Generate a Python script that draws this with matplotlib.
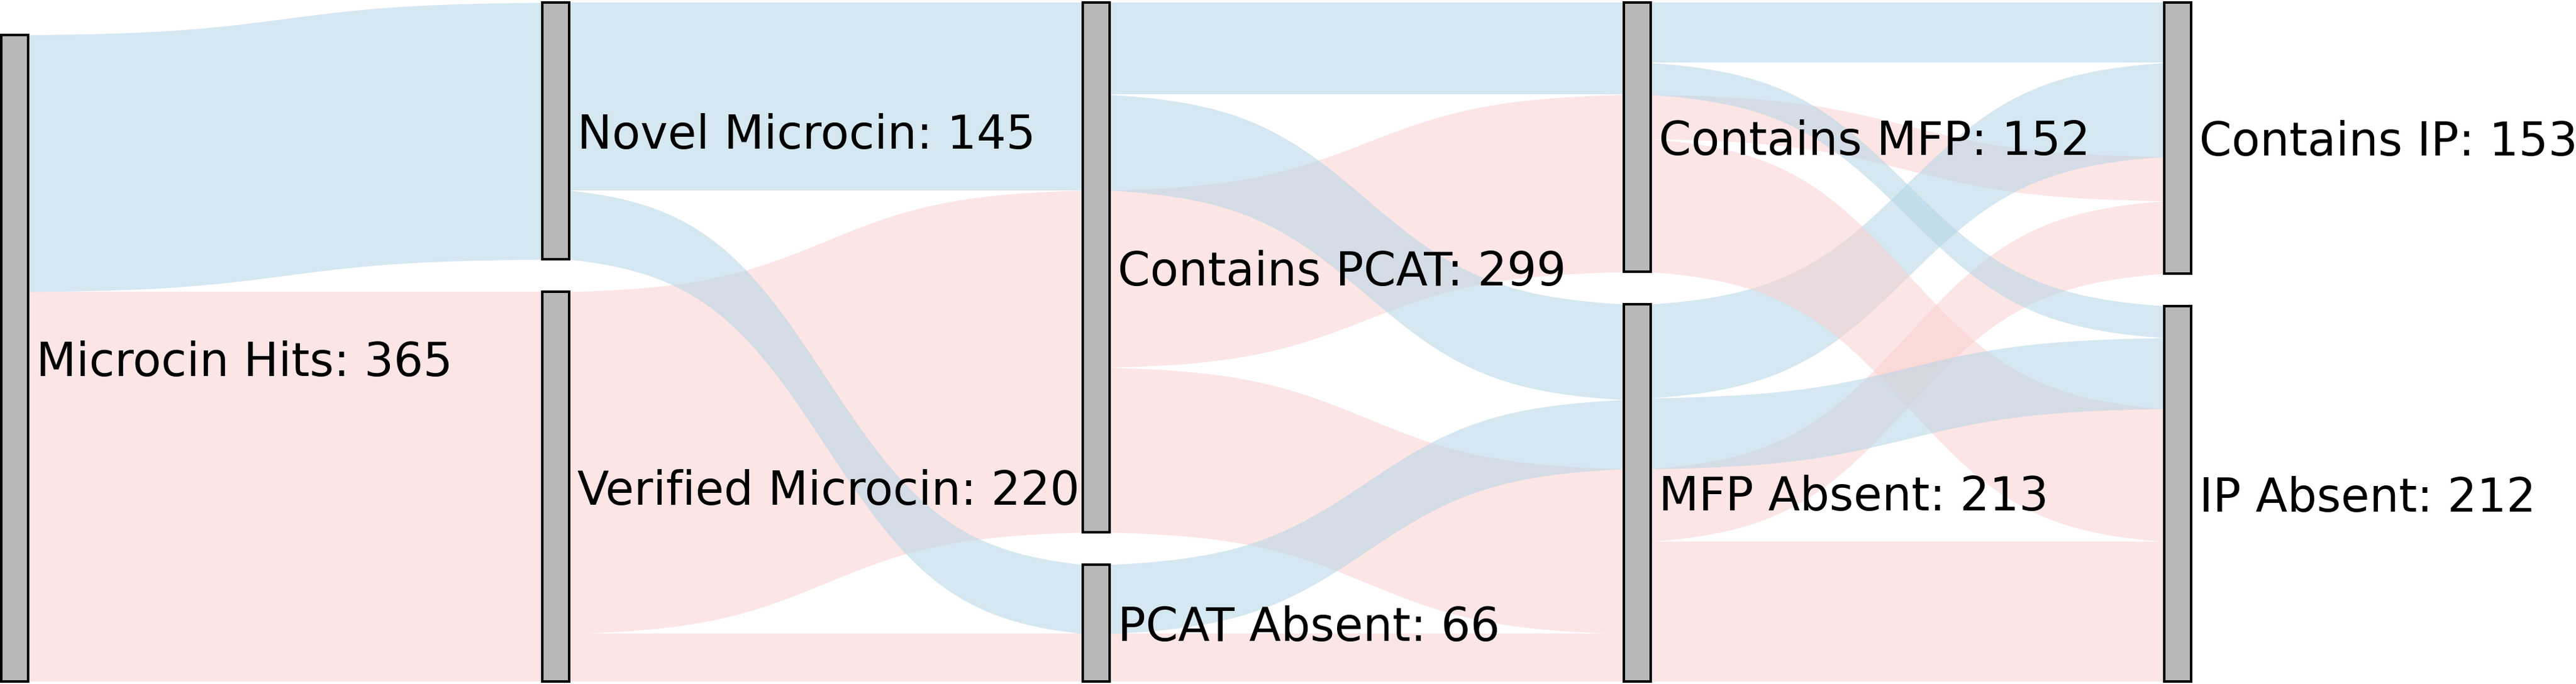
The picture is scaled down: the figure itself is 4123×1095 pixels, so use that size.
import numpy as np
import matplotlib
matplotlib.use("Agg")
import matplotlib.pyplot as plt
from matplotlib.patches import Rectangle

# ---------------- data ----------------
axis_nodes = [
    ["Microcin Hits"],
    ["Novel Microcin", "Verified Microcin"],
    ["Contains PCAT", "PCAT Absent"],
    ["Contains MFP", "MFP Absent"],
    ["Contains IP", "IP Absent"],
]
groups = ["Novel", "Verified"]

link_source = ["Microcin Hits", "Microcin Hits",
               "Novel Microcin", "Novel Microcin", "Verified Microcin", "Verified Microcin",
               "Contains PCAT", "Contains PCAT", "Contains PCAT", "Contains PCAT",
               "PCAT Absent", "PCAT Absent",
               "Contains MFP", "Contains MFP", "Contains MFP", "Contains MFP",
               "MFP Absent", "MFP Absent", "MFP Absent", "MFP Absent"]
link_target = ["Novel Microcin", "Verified Microcin",
               "Contains PCAT", "PCAT Absent", "Contains PCAT", "PCAT Absent",
               "Contains MFP", "MFP Absent", "Contains MFP", "MFP Absent",
               "MFP Absent", "MFP Absent",
               "Contains IP", "IP Absent", "Contains IP", "IP Absent",
               "Contains IP", "IP Absent", "Contains IP", "IP Absent"]
link_group = ["Novel", "Verified",
              "Novel", "Novel", "Verified", "Verified",
              "Novel", "Novel", "Verified", "Verified",
              "Novel", "Verified",
              "Novel", "Novel", "Verified", "Verified",
              "Novel", "Novel", "Verified", "Verified"]
link_value = [145, 220,
              106, 39, 193, 27,
              52, 54, 100, 93,
              39, 27,
              34, 18, 25, 75,
              53, 40, 41, 79]

# ---------------- style ----------------
group_color = {"Novel": "#b4d5e6", "Verified": "#fbd0d0"}
flow_alpha = 0.55
node_fill = "#b8b8b8"
node_w = 0.05
gap = 18.25
smooth = 4.0

# ---------------- layout ----------------
node_axis = {}
node_order = {}
for i, names in enumerate(axis_nodes):
    for j, n in enumerate(names):
        node_axis[n] = i
        node_order[n] = j

totals = {}
for n in node_axis:
    if node_axis[n] == 0:
        totals[n] = sum(v for s, v in zip(link_source, link_value) if s == n)
    else:
        totals[n] = sum(v for t, v in zip(link_target, link_value) if t == n)

node_top = {}
node_bot = {}
for names in axis_nodes:
    y = 0.0
    for n in reversed(names):
        node_bot[n] = y
        node_top[n] = y + totals[n]
        y = node_top[n] + gap

gidx = {g: k for k, g in enumerate(groups)}
links = list(range(len(link_value)))
src_pos = {}
tgt_pos = {}
for n in node_axis:
    out_l = sorted([k for k in links if link_source[k] == n],
                   key=lambda k: (gidx[link_group[k]], node_order[link_target[k]]))
    y = node_top[n]
    for k in out_l:
        src_pos[k] = (y, y - link_value[k])
        y -= link_value[k]
    in_l = sorted([k for k in links if link_target[k] == n],
                  key=lambda k: (gidx[link_group[k]], node_order[link_source[k]]))
    y = node_top[n]
    for k in in_l:
        tgt_pos[k] = (y, y - link_value[k])
        y -= link_value[k]

# ---------------- draw ----------------
W, H = 4123, 1095
fig = plt.figure(figsize=(W / 100, H / 100), dpi=100)
ax = fig.add_axes([0, 0, 1, 1])
ax.set_axis_off()

px_per_x = 865.5
x_left = 0.975 - 2 / px_per_x
ax.set_xlim(x_left, x_left + W / px_per_x)
ymax_data = max(node_top.values())
px_per_y = 1087 / ymax_data
ax.set_ylim(-4 / px_per_y, ymax_data + 4 / px_per_y)

t = np.linspace(-smooth, smooth, 300)
sig = 1 / (1 + np.exp(-t))
sig = (sig - sig[0]) / (sig[-1] - sig[0])

draw_order = sorted(links, key=lambda k: (node_axis[link_source[k]],
                                          node_order[link_target[k]],
                                          node_order[link_source[k]],
                                          -gidx[link_group[k]]))
for k in draw_order:
    a = node_axis[link_source[k]] + 1
    x0 = a + node_w / 2
    x1 = a + 1 - node_w / 2
    xs = x0 + (x1 - x0) * np.linspace(0, 1, 300)
    top = src_pos[k][0] + (tgt_pos[k][0] - src_pos[k][0]) * sig
    bot = src_pos[k][1] + (tgt_pos[k][1] - src_pos[k][1]) * sig
    ax.fill_between(xs, bot, top, color=group_color[link_group[k]],
                    alpha=flow_alpha, linewidth=0, zorder=1)

for n in node_axis:
    a = node_axis[n] + 1
    ax.add_patch(Rectangle((a - node_w / 2, node_bot[n]), node_w, totals[n],
                           facecolor=node_fill, edgecolor="black",
                           linewidth=2.9, zorder=3))
    ax.text(a + node_w / 2 + 0.015, (node_top[n] + node_bot[n]) / 2,
            f"{n}: {totals[n]}", ha="left", va="center_baseline",
            fontsize=53.5, family=["DejaVu Sans"],
            color="black", zorder=4)

fig.savefig("out.png", dpi=100)
